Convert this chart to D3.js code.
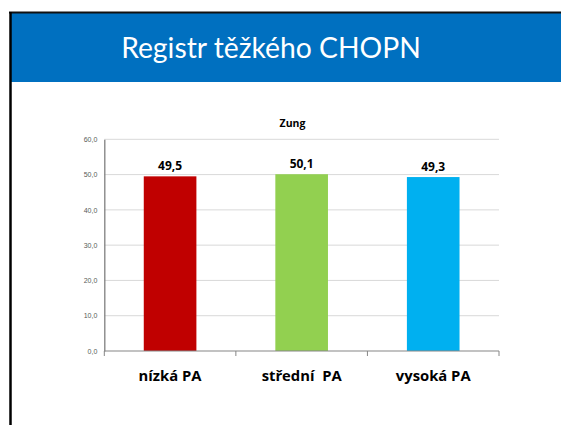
<!DOCTYPE html>
<html><head><meta charset="utf-8">
<script src="https://cdn.jsdelivr.net/npm/d3@7"></script>
<style>html,body{margin:0;padding:0;background:#fff;}svg{display:block;}</style>
</head><body>
<script>
const titleText = "Registr těžkého CHOPN";
const chartTitle = "Zung";
const categories = ["nízká PA", "střední  PA", "vysoká PA"];
const values = [49.5, 50.1, 49.3];
const colors = ["#C00000", "#92D050", "#00B0F0"];
const yTicks = [0, 10, 20, 30, 40, 50, 60];

const W = 561, H = 425;
const svg = d3.select("body").append("svg").attr("width", W).attr("height", H);
const fmt = v => d3.format(".1f")(v).replace(".", ",");
const SANS = "'Open Sans', 'Liberation Sans', sans-serif";

// header frame
svg.append("rect").attr("x", 11).attr("y", 13).attr("width", W - 11).attr("height", 69).attr("fill", "#0070C0");
svg.append("line").attr("x1", 9).attr("x2", W).attr("y1", 12.5).attr("y2", 12.5).attr("stroke", "#111").attr("stroke-width", 2);
svg.append("line").attr("x1", 10.5).attr("x2", 10.5).attr("y1", 12).attr("y2", H).attr("stroke", "#000").attr("stroke-width", 2.5);

const tt = svg.append("text").attr("x", 271).attr("y", 58).attr("text-anchor", "middle")
  .attr("fill", "#fff").style("font-family", "Lato, 'Open Sans', sans-serif").style("font-size", "30px").text(titleText);
const tw = tt.node().getComputedTextLength();
tt.style("font-size", (30 * 300 / tw) + "px");

// chart
const x0 = 104.3, x1 = 499, yTop = 139.3, yBot = 351;
const x = d3.scaleBand().domain(categories).range([x0, x1]).paddingInner(0.6).paddingOuter(0.3);
const y = d3.scaleLinear().domain([0, 60]).range([yBot, yTop]);

const g = svg.append("g");
g.selectAll(".grid").data(yTicks.filter(d => d > 0)).join("line")
  .attr("x1", x0).attr("x2", x1).attr("y1", d => y(d)).attr("y2", d => y(d))
  .attr("stroke", "#D9D9D9").attr("stroke-width", 1);

const yAxis = d3.axisLeft(y).tickValues(yTicks).tickFormat(fmt).tickSize(0).tickPadding(7);
const ya = g.append("g").attr("transform", `translate(${x0},0)`).call(yAxis);
ya.select(".domain").attr("stroke", "#7F7F7F").attr("stroke-width", 1.3);
ya.selectAll("text").style("font-family", "'Liberation Sans', Arial, sans-serif").style("font-size", "7px").attr("fill", "#595959");

g.selectAll(".bar").data(values).join("rect")
  .attr("x", (d, i) => x(categories[i])).attr("width", x.bandwidth())
  .attr("y", d => y(d)).attr("height", d => yBot - y(d)).attr("fill", (d, i) => colors[i]);

g.selectAll(".lbl").data(values).join("text")
  .attr("x", (d, i) => x(categories[i]) + x.bandwidth() / 2).attr("y", d => y(d) - 6.5)
  .attr("text-anchor", "middle").style("font-family", SANS)
  .style("font-weight", "bold").style("font-size", "12px").attr("fill", "#000").text(fmt);

// x axis
const step = x.step();
const xTickPos = d3.range(categories.length + 1).map(i => x0 + i * step);
g.append("line").attr("x1", x0).attr("x2", x1).attr("y1", yBot).attr("y2", yBot).attr("stroke", "#868686").attr("stroke-width", 1.2);
g.selectAll(".xt").data(xTickPos).join("line")
  .attr("x1", d => d).attr("x2", d => d).attr("y1", yBot).attr("y2", yBot + 5).attr("stroke", "#868686").attr("stroke-width", 1);

g.selectAll(".cat").data(categories).join("text")
  .attr("x", d => x(d) + x.bandwidth() / 2).attr("y", 381)
  .attr("text-anchor", "middle").style("font-family", SANS)
  .style("font-weight", "bold").style("font-size", "14.8px").attr("fill", "#000")
  .style("white-space", "pre").attr("xml:space", "preserve").text(d => d);

svg.append("text").attr("x", 292.5).attr("y", 127).attr("text-anchor", "middle")
  .style("font-family", SANS).style("font-weight", "bold")
  .style("font-size", "10.5px").attr("fill", "#000").text(chartTitle);
</script>
</body></html>
